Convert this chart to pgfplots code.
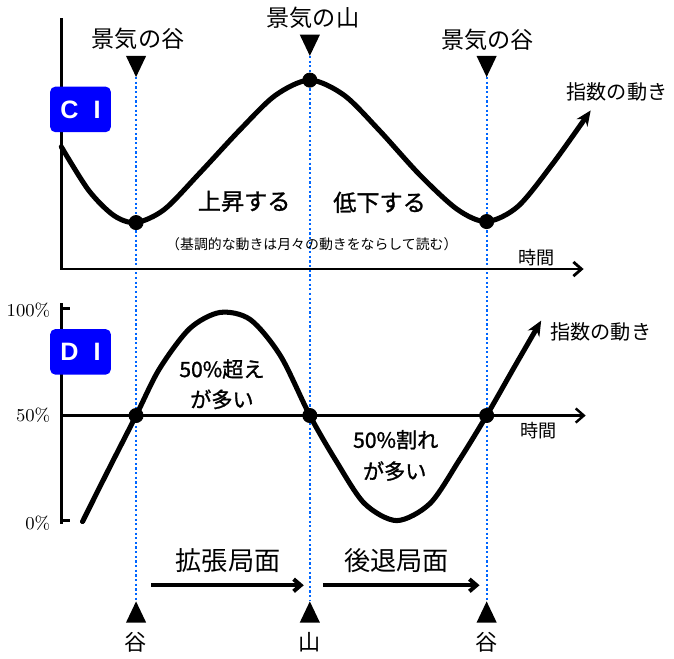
\documentclass[border=0pt]{standalone}
\usepackage{pgfplots}
\pgfplotsset{compat=1.18}
\usetikzlibrary{arrows.meta}
\usepackage{fontspec}
\newfontfamily\jp{Noto Sans CJK JP}
\newfontfamily\jpb[AutoFakeBold=1.2]{Noto Sans CJK JP}
\newfontfamily\lat{Liberation Sans}
\definecolor{dotblue}{RGB}{0,102,255}
\definecolor{boxblue}{RGB}{0,0,255}
\newcommand\fs[1]{\fontsize{#1}{#1}\selectfont}

\begin{document}
\begin{tikzpicture}
\begin{axis}[
    scale only axis,
    width=337bp, height=325.5bp,
    xmin=0, xmax=674, ymin=0, ymax=651,
    y dir=reverse,
    hide axis,
    clip=false,
]

% blue dotted guides (trough / peak / trough)
\addplot[dotblue, line width=1.1bp, dash pattern=on 1.1bp off 1.2bp] coordinates {(137,78) (137,597)};
\addplot[dotblue, line width=1.1bp, dash pattern=on 1.1bp off 1.2bp] coordinates {(309,57) (309,597)};
\addplot[dotblue, line width=1.1bp, dash pattern=on 1.1bp off 1.2bp] coordinates {(484,78) (484,597)};

% CI axes
\addplot[black, line width=1.4bp, -{Straight Barb[length=4bp,width=7bp]}]
    coordinates {(63,20) (63,268) (580,268)};

% DI axes
\addplot[black, line width=1.4bp] coordinates {(63,302) (63,520)};
\addplot[black, line width=1.4bp] coordinates {(63,307) (72,307)};
\addplot[black, line width=1.4bp] coordinates {(63,517) (72,517)};
\addplot[black, line width=1.2bp, -{Straight Barb[length=4bp,width=7bp]}]
    coordinates {(63,413) (582,413)};

% CI curve
\addplot[black, line width=2.5bp, smooth, line cap=round, -{Stealth[length=7.5bp,width=6.5bp]}]
    coordinates {(63,147) (90,190) (115,215) (137,222) (165,209) (200,173) (240,130)
                 (275,96) (309,81) (343,96) (378,131) (418,175) (455,209) (484,221)
                 (515,206) (550,163) (587,111)};

% DI curve
\addplot[black, line width=2.5bp, smooth, line cap=round, -{Stealth[length=7.5bp,width=6.5bp]}]
    coordinates {(84,518) (110,466) (137,413) (160,367) (190,327) (220,311) (250,318)
                 (280,354) (309,413) (335,458) (363,500) (395,517) (428,500) (457,457)
                 (484,413) (512,364) (538,319)};

% turning points
\addplot[only marks, mark=*, mark size=3.5bp, black] coordinates {(137,222) (309,81) (484,221)};
\addplot[only marks, mark=*, mark size=3.5bp, black] coordinates {(137,413) (309,413) (484,413)};

% triangles top
\addplot[fill=black, draw=none] coordinates {(127,57) (147,57) (137,78)} -- cycle;
\addplot[fill=black, draw=none] coordinates {(299,36) (319,36) (309,57)} -- cycle;
\addplot[fill=black, draw=none] coordinates {(474,57) (494,57) (484,78)} -- cycle;
% triangles bottom
\addplot[fill=black, draw=none] coordinates {(127,618) (147,618) (137,597)} -- cycle;
\addplot[fill=black, draw=none] coordinates {(299,618) (319,618) (309,597)} -- cycle;
\addplot[fill=black, draw=none] coordinates {(474,618) (494,618) (484,597)} -- cycle;

% phase arrows
\addplot[black, line width=2bp, -{Straight Barb[length=3.5bp,width=6bp]}] coordinates {(152,581) (303,581)};
\addplot[black, line width=2bp, -{Straight Barb[length=3.5bp,width=6bp]}] coordinates {(322,581) (477,581)};

% boxes
\node[fill=boxblue, rounded corners=2.5bp, minimum width=30bp, minimum height=22.5bp,
      inner sep=0pt, text=white, font=\lat\bfseries\fs{12.5}]
      at (axis cs:82,110) {C\hspace{7.5bp}I};
\node[fill=boxblue, rounded corners=2.5bp, minimum width=30bp, minimum height=22.5bp,
      inner sep=0pt, text=white, font=\lat\bfseries\fs{12.5}]
      at (axis cs:82,350) {D\hspace{7.5bp}I};

% labels
\node[font=\jp\fs{11.5}] at (axis cs:139,40) {景気の谷};
\node[font=\jp\fs{11.5}] at (axis cs:312,19) {景気の山};
\node[font=\jp\fs{11.5}] at (axis cs:485,41) {景気の谷};
\node[font=\jp\fs{10}] at (axis cs:613,93) {指数の動き};
\node[font=\jp\fs{10}] at (axis cs:597,330) {指数の動き};
\node[font=\jp\fs{9}] at (axis cs:533,257) {時間};
\node[font=\jp\fs{9}] at (axis cs:535,428) {時間};
\node[font=\jpb\bfseries\fs{11.5}] at (axis cs:244,201) {上昇する};
\node[font=\jpb\bfseries\fs{11.5}] at (axis cs:378,202) {低下する};
\node[font=\jp\fs{6.9}] at (axis cs:311,243) {（基調的な動きは月々の動きをならして読む）};
\node[font=\jpb\bfseries\fs{10.5}] at (axis cs:222,367) {50\%超え};
\node[font=\jpb\bfseries\fs{10.5}] at (axis cs:222,397) {が多い};
\node[font=\jpb\bfseries\fs{10.5}] at (axis cs:394,437) {50\%割れ};
\node[font=\jpb\bfseries\fs{10.5}] at (axis cs:393,468) {が多い};
\node[font=\jp\fs{13}] at (axis cs:228,557) {拡張局面};
\node[font=\jp\fs{13}] at (axis cs:395,557) {後退局面};
\node[font=\jp\fs{11}] at (axis cs:137,637) {谷};
\node[font=\jp\fs{11}] at (axis cs:309,637) {山};
\node[font=\jp\fs{11}] at (axis cs:484,637) {谷};
\node[anchor=east, font=\fs{9}] at (axis cs:59,309) {100\%};
\node[anchor=east, font=\fs{9}] at (axis cs:59,413) {50\%};
\node[anchor=east, font=\fs{9}] at (axis cs:59,520) {0\%};

\end{axis}
\end{tikzpicture}
\end{document}
